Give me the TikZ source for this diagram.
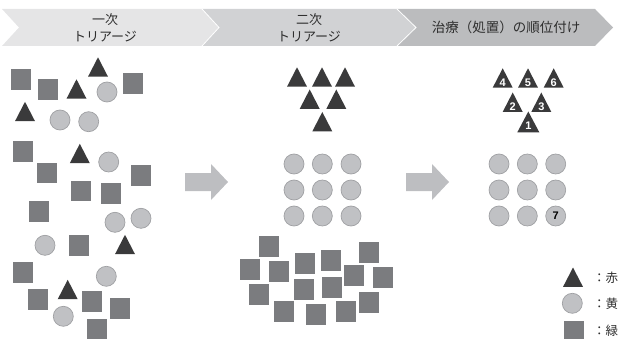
\documentclass[tikz,border=0pt]{standalone}
\usepackage{fontspec}
\newfontfamily\jp{Noto Sans CJK JP}
\newfontfamily\numf{Liberation Sans}
\definecolor{tricol}{HTML}{3A3A3B}
\definecolor{circfill}{HTML}{C0C1C4}
\definecolor{circline}{HTML}{9FA0A3}
\definecolor{sqcol}{HTML}{7B7C7F}
\definecolor{hdrA}{HTML}{E5E5E6}
\definecolor{hdrB}{HTML}{D1D2D4}
\definecolor{hdrC}{HTML}{BBBCBE}
\definecolor{arrcol}{HTML}{BDBEC1}
\definecolor{txtcol}{HTML}{2E2E2E}
\newcommand\mytri[2]{\fill[tricol] (#1-10,#2+9.7) -- (#1+10,#2+9.7) -- (#1,#2-9.7) -- cycle;}
\newcommand\mycirc[2]{\draw[circ] (#1,#2) circle[radius=10];}
\newcommand\mysq[2]{\fill[sqcol] (#1-10,#2-10.3) rectangle (#1+10,#2+10.3);}
\begin{document}
\begin{tikzpicture}[x=1pt,y=-1pt,
  circ/.style={fill=circfill,draw=circline,line width=0.7pt},
  hdr/.style={font=\jp\fontsize{13}{17}\selectfont,text=txtcol,align=center},
  numlab/.style={font=\numf\bfseries\fontsize{11}{11}\selectfont,text=white,inner sep=0pt},
  leg/.style={anchor=west,font=\jp\fontsize{12.5}{14}\selectfont,text=txtcol,inner sep=0pt}]
\useasboundingbox (0,0) rectangle (620,339);
\clip (0,0) rectangle (620,339);
% header chevrons
\fill[hdrA] (2,9) -- (202,9) -- (219,27.5) -- (202,46) -- (2,46) -- (19,27.5) -- cycle;
\fill[hdrB] (202,9) -- (397,9) -- (416,27.5) -- (397,46) -- (202,46) -- (219,27.5) -- cycle;
\fill[hdrC] (397,9) -- (595,9) -- (613,27.5) -- (595,46) -- (397,46) -- (416,27.5) -- cycle;
\draw[white,line width=0.8pt] (202,9) -- (219,27.5) -- (202,46);
\draw[white,line width=0.8pt] (397,9) -- (416,27.5) -- (397,46);
\node[hdr] (h1) at (105,27.5) {一次\\トリアージ};
\node[hdr] (h2) at (309,27.5) {二次\\トリアージ};
\node[hdr,font=\jp\fontsize{13.5}{17}\selectfont] (h3) at (506,27.5) {治療（処置）の順位付け};
% arrows
\fill[arrcol] (185,173) -- (211,173) -- (211,164) -- (228,182) -- (211,200) -- (211,191) -- (185,191) -- cycle;
\fill[arrcol] (406,173) -- (432,173) -- (432,164) -- (449,182) -- (432,200) -- (432,191) -- (406,191) -- cycle;
% phase 1
\mysq{21}{79.5}\mysq{47.7}{89.5}\mysq{133}{83.5}\mysq{22.7}{151.5}\mysq{47}{173}
\mysq{141}{175.5}\mysq{81}{191}\mysq{111}{193.5}\mysq{39}{211.5}\mysq{79}{245.5}
\mysq{23}{272.5}\mysq{38}{299.5}\mysq{92}{301.5}\mysq{120}{308.5}\mysq{97}{329.5}
\mytri{98}{67}\mytri{76.5}{89}\mytri{25}{111.5}\mytri{79.8}{153.5}\mytri{125}{244.5}\mytri{67.7}{289.5}
\mycirc{107}{92}\mycirc{60}{120}\mycirc{88.7}{121.7}\mycirc{108.7}{162}\mycirc{115}{222.3}
\mycirc{141}{218.3}\mycirc{45}{245.3}\mycirc{106.3}{276.3}\mycirc{63.3}{316.3}
% phase 2
\mytri{297}{77}\mytri{322}{77}\mytri{345}{77}
\mytri{309.7}{99.2}\mytri{336.3}{99.2}
\mytri{322.3}{121.7}
\foreach \yy in {164,190,216}{\mycirc{294}{\yy}\mycirc{322.3}{\yy}\mycirc{351}{\yy}}
\mysq{269}{246.3}\mysq{250}{269.5}\mysq{279}{271.5}\mysq{305}{263.5}\mysq{331}{260.5}
\mysq{369}{252.5}\mysq{354}{275.5}\mysq{383}{277.5}\mysq{259}{294.5}\mysq{304}{289.5}
\mysq{332}{287.5}\mysq{369}{302.5}\mysq{284}{311.5}\mysq{316}{314.5}\mysq{346}{311.5}
% phase 3
\mytri{502.7}{78}\mytri{528}{78}\mytri{553.7}{78}
\mytri{512.7}{102.2}\mytri{541.3}{102.2}
\fill[tricol] (517.3,132.3) -- (539.3,132.3) -- (528.3,111.5) -- cycle;
\node[numlab] (n4) at (502.7,82.5) {4};
\node[numlab] (n5) at (528,82.5) {5};
\node[numlab] (n6) at (553.7,82.5) {6};
\node[numlab] (n2) at (512.7,106.7) {2};
\node[numlab] (n3) at (541.3,106.7) {3};
\node[numlab] (n1) at (528.3,126) {1};
\foreach \yy in {164,190,216}{\mycirc{499}{\yy}\mycirc{527.3}{\yy}\mycirc{555.7}{\yy}}
\node[numlab,text=black] (n7) at (555.7,216) {7};
% legend
\mytri{573}{277.2}
\mycirc{572.3}{303.3}
\mysq{574}{331}
\node[leg] (l1) at (593,278) {：赤};
\node[leg] (l2) at (593,304) {：黄};
\node[leg] (l3) at (593,331) {：緑};
\end{tikzpicture}
\end{document}
